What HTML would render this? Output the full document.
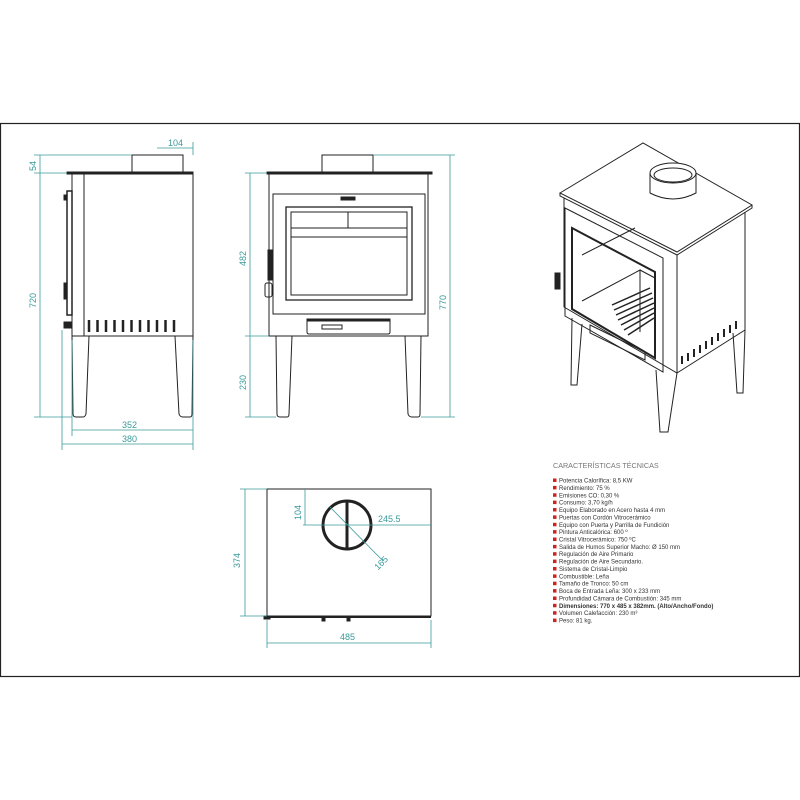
<!DOCTYPE html>
<html><head><style>body{margin:0;background:#fff}svg{display:block}</style></head><body>
<svg width="800" height="800" viewBox="0 0 800 800" xmlns="http://www.w3.org/2000/svg" font-family="Liberation Sans, sans-serif">
<rect x="0.5" y="123.5" width="799" height="553" fill="none" stroke="#222" stroke-width="1.2"/>
<g stroke="#222" fill="none" stroke-width="1">
<rect x="67" y="172" width="126" height="2" fill="#222"/>
<rect x="132" y="155" width="51" height="17"/>
<rect x="72" y="174" width="121" height="162"/>
<line x1="84" y1="174" x2="84" y2="336"/>
<rect x="67" y="191" width="5" height="124" stroke-width="1.5"/>
<rect x="64" y="195" width="3" height="5" fill="#222"/><rect x="64" y="283" width="3" height="16" fill="#222"/>
<rect x="64" y="322" width="8" height="6" fill="#222"/>
<g stroke-width="2.5">
<line x1="89" y1="320" x2="89" y2="332"/><line x1="97.5" y1="320" x2="97.5" y2="332"/><line x1="106" y1="320" x2="106" y2="332"/><line x1="114.5" y1="320" x2="114.5" y2="332"/><line x1="123" y1="320" x2="123" y2="332"/><line x1="131.5" y1="320" x2="131.5" y2="332"/><line x1="140" y1="320" x2="140" y2="332"/><line x1="148.5" y1="320" x2="148.5" y2="332"/><line x1="157" y1="320" x2="157" y2="332"/><line x1="165.5" y1="320" x2="165.5" y2="332"/><line x1="174" y1="320" x2="174" y2="332"/>
</g>
<path d="M72 336 L73 414 Q73 417 76 417 L83 417 Q85 417 86 414 L89 336"/>
<path d="M175 336 L179 414 Q180 417 183 417 L190 417 Q192 417 192 414 L193 336"/>
<rect x="267" y="172" width="165" height="2" fill="#222"/>
<rect x="322" y="155" width="51" height="17"/>
<rect x="269" y="174" width="159" height="162"/>
<rect x="273" y="194" width="152" height="120"/>
<rect x="286" y="207" width="126" height="93" stroke-width="1.3"/>
<rect x="291" y="212" width="116" height="83"/>
<line x1="291" y1="228" x2="407" y2="228"/><line x1="291" y1="237" x2="407" y2="237"/><line x1="348" y1="212" x2="348" y2="228"/>
<rect x="341" y="197" width="14" height="3" fill="#222"/>
<rect x="268" y="250" width="4" height="30" fill="#222"/>
<rect x="265" y="283" width="7" height="14" rx="2"/>
<path d="M307 319 L390 319 L390 332 Q390 334 388 334 L309 334 Q307 334 307 332 Z"/>
<rect x="307" y="319" width="83" height="2" fill="#222"/>
<rect x="322" y="325" width="20" height="4"/>
<path d="M276 336 L277 414 Q277 417 280 417 L287 417 Q289 417 289 414 L292 336"/>
<path d="M405 336 L408 414 Q409 417 412 417 L418 417 Q420 417 420 414 L421 336"/>
<path d="M560 193 L643 143 L752 205 L677 252 Z"/>
<path d="M560 193 L560 196 L677 255 L752 208 L752 205"/>
<path d="M564 198 L564 307 L677 373 L677 255 M677 373 L745 330 L745 212"/>
<path d="M565 208 L663 258 L663 372 L565 316 Z"/>
<path d="M572 228 L655 272 L655 358 L572 309 Z" stroke-width="2"/>
<path d="M582 255 L635 228 M582 301 L640 270 L640 332 M640 270 L655 278"/>
<g stroke-width="1.5"><line x1="612" y1="305" x2="650" y2="288"/><line x1="614" y1="310" x2="652" y2="293"/><line x1="616" y1="315" x2="653" y2="298"/><line x1="618" y1="320" x2="654" y2="303"/><line x1="621" y1="325" x2="654" y2="308"/><line x1="624" y1="330" x2="654" y2="313"/><line x1="628" y1="335" x2="654" y2="318"/></g>
<rect x="555" y="273" width="5" height="16" fill="#222"/>
<path d="M590 325 L645 352 L645 360 L590 333 Z"/>
<g stroke-width="2"><line x1="682" y1="356" x2="682" y2="364"/><line x1="688" y1="353" x2="688" y2="361"/><line x1="694" y1="349" x2="694" y2="357"/><line x1="700" y1="345" x2="700" y2="353"/><line x1="706" y1="341" x2="706" y2="349"/><line x1="712" y1="337" x2="712" y2="345"/><line x1="718" y1="333" x2="718" y2="341"/><line x1="724" y1="329" x2="724" y2="337"/><line x1="730" y1="325" x2="730" y2="333"/><line x1="736" y1="321" x2="736" y2="329"/></g>
<path d="M572 318 L571 385 L577 385 L582 324"/>
<path d="M656 370 L660 432 L668 432 L677 373"/>
<path d="M733 333 L737 393 L743 393 L745 330"/>
<path d="M650 173 L650 193 Q673 205 696 193 L696 173" fill="#fff"/>
<ellipse cx="673" cy="173" rx="23" ry="10" fill="#fff"/>
<ellipse cx="673" cy="175" rx="19" ry="7"/>
<rect x="267" y="489" width="164" height="127"/>
<line x1="267" y1="617" x2="431" y2="617" stroke-width="2"/>
<rect x="264" y="616" width="6" height="3" fill="#222"/>
<rect x="322" y="617" width="3" height="4" fill="#222"/><rect x="347" y="617" width="3" height="4" fill="#222"/>
<circle cx="347" cy="525" r="24" stroke-width="3"/>
<line x1="347" y1="501" x2="347" y2="549" stroke-width="3"/>
</g>
<g stroke="#3a9a9a" fill="none" stroke-width="0.8">
<line x1="40" y1="155" x2="40" y2="417"/><line x1="34" y1="155" x2="132" y2="155"/><line x1="34" y1="173" x2="67" y2="173"/><line x1="34" y1="417" x2="72" y2="417"/>
<line x1="157" y1="148" x2="193" y2="148"/><line x1="193" y1="142" x2="193" y2="155"/>
<line x1="72" y1="340" x2="72" y2="436"/><line x1="193" y1="340" x2="193" y2="450"/><line x1="62" y1="330" x2="62" y2="450"/>
<line x1="72" y1="430" x2="193" y2="430"/><line x1="62" y1="444" x2="193" y2="444"/>
<line x1="250" y1="173" x2="250" y2="417"/><line x1="245" y1="173" x2="267" y2="173"/><line x1="245" y1="336" x2="269" y2="336"/><line x1="245" y1="417" x2="276" y2="417"/>
<line x1="450" y1="155" x2="450" y2="417"/><line x1="373" y1="155" x2="455" y2="155"/><line x1="421" y1="417" x2="455" y2="417"/>
<line x1="245" y1="489" x2="245" y2="616"/><line x1="240" y1="489" x2="267" y2="489"/><line x1="240" y1="616" x2="267" y2="616"/>
<line x1="267" y1="620" x2="267" y2="648"/><line x1="431" y1="620" x2="431" y2="648"/><line x1="267" y1="643" x2="431" y2="643"/>
<line x1="303" y1="525" x2="431" y2="525"/><line x1="305" y1="489" x2="305" y2="525"/>
<line x1="330" y1="507" x2="383" y2="561"/>
</g>
<g fill="#3a9a9a" font-size="9">
<text x="30" y="165" transform="rotate(-90 36 165)">54</text>
<text x="28" y="300" transform="rotate(-90 36 300)">720</text>
<text x="168" y="146">104</text>
<text x="122" y="428">352</text>
<text x="122" y="442">380</text>
<text x="238" y="258" transform="rotate(-90 246 258)">482</text>
<text x="238" y="382" transform="rotate(-90 246 382)">230</text>
<text x="438" y="302" transform="rotate(-90 446 302)">770</text>
<text x="232" y="560" transform="rotate(-90 240 560)">374</text>
<text x="340" y="640">485</text>
<text x="378" y="522">245.5</text>
<text x="293" y="512" transform="rotate(-90 301 512)">104</text>
<text x="372" y="568" transform="rotate(-45 378 562)">165</text>
</g>
<text x="553" y="468" fill="#777" font-size="7.2">CARACTERÍSTICAS TÉCNICAS</text>
<g fill="#c22">
<rect x="553" y="478.5" width="3.5" height="3.5"/><rect x="553" y="485.9" width="3.5" height="3.5"/><rect x="553" y="493.3" width="3.5" height="3.5"/><rect x="553" y="500.6" width="3.5" height="3.5"/><rect x="553" y="508" width="3.5" height="3.5"/><rect x="553" y="515.4" width="3.5" height="3.5"/><rect x="553" y="522.8" width="3.5" height="3.5"/><rect x="553" y="530.1" width="3.5" height="3.5"/><rect x="553" y="537.5" width="3.5" height="3.5"/><rect x="553" y="544.9" width="3.5" height="3.5"/><rect x="553" y="552.2" width="3.5" height="3.5"/><rect x="553" y="559.6" width="3.5" height="3.5"/><rect x="553" y="567" width="3.5" height="3.5"/><rect x="553" y="574.4" width="3.5" height="3.5"/><rect x="553" y="581.7" width="3.5" height="3.5"/><rect x="553" y="589.1" width="3.5" height="3.5"/><rect x="553" y="596.5" width="3.5" height="3.5"/><rect x="553" y="603.8" width="3.5" height="3.5"/><rect x="553" y="611.2" width="3.5" height="3.5"/><rect x="553" y="618.6" width="3.5" height="3.5"/>
</g>
<g font-size="6" fill="#333">
<text x="559" y="482.5">Potencia Calorífica: 8,5 KW</text>
<text x="559" y="489.9">Rendimiento: 75 %</text>
<text x="559" y="497.3">Emisiones CO: 0,30 %</text>
<text x="559" y="504.6">Consumo: 3,70 kg/h</text>
<text x="559" y="512">Equipo Elaborado en Acero hasta 4 mm</text>
<text x="559" y="519.4">Puertas con Cordón Vitrocerámico</text>
<text x="559" y="526.8">Equipo con Puerta y Parrilla de Fundición</text>
<text x="559" y="534.1">Pintura Anticalórica: 600 º</text>
<text x="559" y="541.5">Cristal Vitrocerámico: 750 ºC</text>
<text x="559" y="548.9">Salida de Humos Superior Macho: Ø 150 mm</text>
<text x="559" y="556.2">Regulación de Aire Primario</text>
<text x="559" y="563.6">Regulación de Aire Secundario.</text>
<text x="559" y="571">Sistema de Cristal-Limpio</text>
<text x="559" y="578.4">Combustible: Leña</text>
<text x="559" y="585.7">Tamaño de Tronco: 50 cm</text>
<text x="559" y="593.1">Boca de Entrada Leña: 300 x 233 mm</text>
<text x="559" y="600.5">Profundidad Cámara de Combustión: 345 mm</text>
<text x="559" y="607.8" font-weight="bold">Dimensiones: 770 x 485 x 382mm. (Alto/Ancho/Fondo)</text>
<text x="559" y="615.2">Volumen Calefacción: 230 m³</text>
<text x="559" y="622.6">Peso: 81 kg.</text>
</g>
</svg>
</body></html>
